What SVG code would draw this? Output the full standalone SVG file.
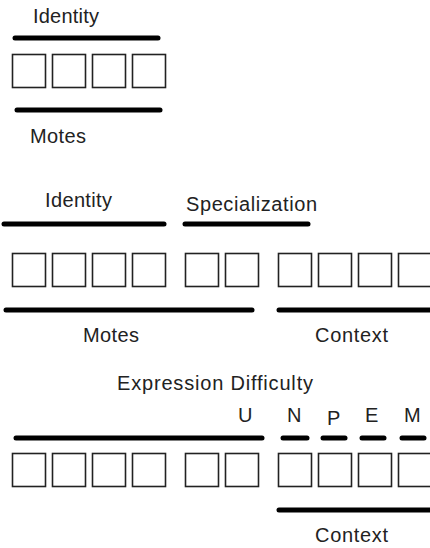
<svg xmlns="http://www.w3.org/2000/svg" width="430" height="548" viewBox="0 0 430 548">
<style>
.bg{fill:#ffffff}
.box{fill:#ffffff;stroke:#222222;stroke-width:1.6}
.bar{stroke:#000000;stroke-width:5;stroke-linecap:round;fill:none}
.t{font-family:"Liberation Sans",Arial,sans-serif;font-size:20px;fill:#222222}
</style>
<defs>
<rect id="b" class="box" width="33" height="33"/>
</defs>
<rect class="bg" x="0" y="0" width="430" height="548"/>

<g id="section1">
  <g id="s1-boxes">
    <use href="#b" x="12.5" y="54.5"/>
    <use href="#b" x="52.5" y="54.5"/>
    <use href="#b" x="92.5" y="54.5"/>
    <use href="#b" x="132.5" y="54.5"/>
  </g>
  <g id="s1-identity"><text class="t" x="33" y="23" textLength="66" lengthAdjust="spacing">Identity</text></g>
  <g id="s1-motes"><text class="t" x="30" y="143" textLength="56" lengthAdjust="spacing">Motes</text></g>
</g>

<g id="section2">
  <g id="s2-boxes">
    <use href="#b" x="12.5" y="253.5"/>
    <use href="#b" x="52.5" y="253.5"/>
    <use href="#b" x="92.5" y="253.5"/>
    <use href="#b" x="132.5" y="253.5"/>
    <use href="#b" x="185.5" y="253.5"/>
    <use href="#b" x="225.5" y="253.5"/>
    <use href="#b" x="278.5" y="253.5"/>
    <use href="#b" x="318.5" y="253.5"/>
    <use href="#b" x="358.5" y="253.5"/>
    <use href="#b" x="398.5" y="253.5"/>
  </g>
  <g id="s2-identity"><text class="t" x="45" y="207" textLength="67" lengthAdjust="spacing">Identity</text></g>
  <g id="s2-specialization"><text class="t" x="186" y="211" textLength="131" lengthAdjust="spacing">Specialization</text></g>
  <g id="s2-motes"><text class="t" x="83" y="342" textLength="56" lengthAdjust="spacing">Motes</text></g>
  <g id="s2-context"><text class="t" x="315" y="342" textLength="73" lengthAdjust="spacing">Context</text></g>
</g>

<g id="section3">
  <g id="s3-boxes">
    <use href="#b" x="12.5" y="453.5"/>
    <use href="#b" x="52.5" y="453.5"/>
    <use href="#b" x="92.5" y="453.5"/>
    <use href="#b" x="132.5" y="453.5"/>
    <use href="#b" x="185.5" y="453.5"/>
    <use href="#b" x="225.5" y="453.5"/>
    <use href="#b" x="278.5" y="453.5"/>
    <use href="#b" x="318.5" y="453.5"/>
    <use href="#b" x="358.5" y="453.5"/>
    <use href="#b" x="398.5" y="453.5"/>
  </g>
  <g id="s3-expression"><text class="t" x="117" y="390" textLength="196" lengthAdjust="spacing">Expression Difficulty</text></g>
  <g id="s3-U"><text class="t" x="238" y="422">U</text></g>
  <g id="s3-N"><text class="t" x="287" y="422">N</text></g>
  <g id="s3-P"><text class="t" x="327" y="425">P</text></g>
  <g id="s3-E"><text class="t" x="365" y="422">E</text></g>
  <g id="s3-M"><text class="t" x="404" y="422">M</text></g>
  <g id="s3-context"><text class="t" x="315" y="542" textLength="73" lengthAdjust="spacing">Context</text></g>
</g>

<g id="connectors">
  <line class="bar" x1="15" y1="38" x2="158" y2="38"/>
  <line class="bar" x1="17" y1="110" x2="160" y2="110"/>
  <line class="bar" x1="4" y1="224" x2="164" y2="224"/>
  <line class="bar" x1="185" y1="224" x2="308" y2="224"/>
  <line class="bar" x1="6" y1="310" x2="252" y2="310"/>
  <line class="bar" x1="279" y1="310" x2="434" y2="310"/>
  <line class="bar" x1="16" y1="438" x2="262" y2="438"/>
  <line class="bar" x1="283" y1="438" x2="307" y2="438"/>
  <line class="bar" x1="323" y1="438" x2="345" y2="438"/>
  <line class="bar" x1="362" y1="438" x2="384" y2="438"/>
  <line class="bar" x1="402" y1="438" x2="424" y2="438"/>
  <line class="bar" x1="279" y1="510" x2="434" y2="510"/>
</g>
</svg>
